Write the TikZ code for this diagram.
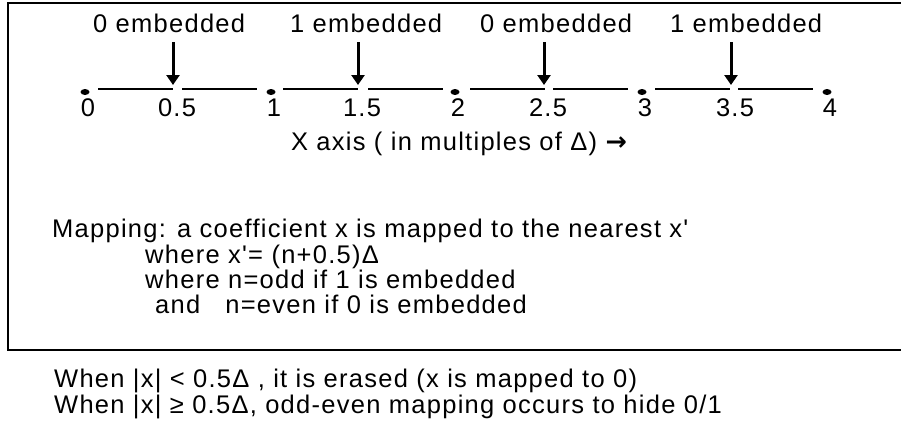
\documentclass[tikz,border=0pt]{standalone}
\usepackage{fontspec}
\newfontfamily\diagfont{Liberation Sans}[LetterSpace=5]
\newfontfamily\arrowfont{DejaVu Sans}
\usetikzlibrary{arrows.meta}
\tikzset{
  lbl/.style={inner sep=0pt, font=\diagfont\fontsize{25.5}{28}\selectfont},
  droparrow/.style={line width=3pt, -{Triangle[width=13pt,length=10pt]}},
  axisline/.style={line width=1.5pt},
}
\begin{document}
\begin{tikzpicture}[x=1pt,y=1pt]
    \useasboundingbox (0,0) rectangle (901,-423);
    \clip (0,0) rectangle (901,-423);
    \draw[line width=2pt] (7.5,-3) rectangle (920,-350);

    % integer points: dot on the axis, number under it
    \foreach \x/\n in {85/0, 271/1, 455/2, 642/3, 827/4}
    {
    \fill (\x,-92) ellipse (4.5 and 3);
    \coordinate (point\n) at (\x,-92);
    \node[lbl, anchor=base] (num\n) at (\x+3,-116) {\n};
    }

    % pieces of the axis, broken at the arrows
    \foreach \l/\r in {98/173, 182/257, 283/358, 368/443, 470/545, 553/628, 655/730, 738/813}
    \draw[axisline] (\l,-89) -- (\r,-89);

    % half points --- access them as tipa...tipd
    \foreach \x/\i/\v/\b/\lx in {173/a/0.5/0/93, 358/b/1.5/1/290, 544/c/2.5/0/480, 731/d/3.5/1/670}
    {
    \coordinate (tip\i) at (\x,-85);
    \node[lbl, anchor=base west] (emb\i) at (\lx,-32) {\b\ embedded};
    \node[lbl, anchor=base] (half\i) at (\x+4,-116) {\v};
    \draw[droparrow] (\x,-42) -- (tip\i);
    }

    \node[lbl, anchor=base] (xlabel) at (459,-150) {X axis ( in multiples of Δ) {\arrowfont\bfseries →}};

    \node[lbl, anchor=base west] (map1) at (52,-237) {Mapping: a coefficient x is mapped to the nearest x'};
    \node[lbl, anchor=base west] (map2) at (145,-263) {where x'= (n+0.5)Δ};
    \node[lbl, anchor=base west] (map3) at (145,-288) {where n=odd if 1 is embedded};
    \node[lbl, anchor=base west] (map4) at (155,-313) {and\ \ \ n=even if 0 is embedded};

    \node[lbl, anchor=base west] (rule1) at (54,-387) {When |x| < 0.5Δ , it is erased (x is mapped to 0)};
    \node[lbl, anchor=base west] (rule2) at (54,-413) {When |x| ≥ 0.5Δ, odd-even mapping occurs to hide 0/1};
\end{tikzpicture}
\end{document}
